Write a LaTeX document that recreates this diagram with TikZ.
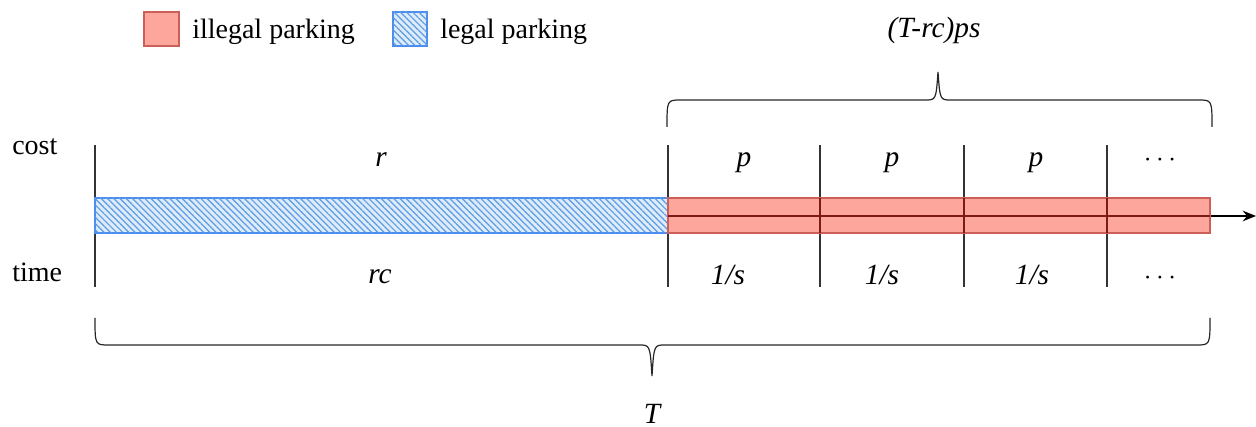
\documentclass[tikz,border=0pt]{standalone}
\usepackage{fontspec}
\setmainfont{Liberation Serif}
\usetikzlibrary{arrows.meta, patterns.meta}

\definecolor{illfill}{HTML}{FCA69C}
\definecolor{illdraw}{HTML}{CC5F5A}
\definecolor{illline}{HTML}{7D1A18}
\definecolor{legfill}{HTML}{DEEBF9}
\definecolor{leghatch}{HTML}{5B9CE4}
\definecolor{legdraw}{HTML}{4C8CF2}

\begin{document}
\begin{tikzpicture}[
  x=0.75pt, y=-0.75pt,
  illegal/.style={draw=illdraw, line width=1pt, fill=illfill},
  legal/.style={draw=legdraw, line width=1pt, fill=legfill,
    postaction={pattern={Lines[angle=-45, distance=3.3pt, line width=0.9pt]}, pattern color=leghatch}},
  tick/.style={draw=black!80, line width=0.8pt},
  inner/.style={draw=illline, line width=0.9pt},
  axis/.style={-{Stealth[length=10pt, width=8pt]}, line width=1pt},
  brace/.style={draw=black!85, line width=0.9pt},
  txt/.style={font=\fontsize{21}{24}\selectfont, inner sep=0pt, anchor=base west},
  lab/.style={font=\fontsize{22}{26}\selectfont\itshape, inner sep=0pt, anchor=base}
]
  \useasboundingbox (0,0) rectangle (1256,427);

  % legend
  \draw[illegal] (144,12) rectangle (179,46);
  \node[txt] (illtxt) at (192,39) {illegal parking};
  \draw[legal] (393,12) rectangle (427,46);
  \node[txt] (legtxt) at (440,39) {legal parking};

  % row captions
  \node[txt] (cost) at (12,155) {cost};
  \node[txt] (time) at (12,282) {time};

  % ticks
  \foreach \x in {95,668,820,964,1107}
    \draw[tick] (\x,145) -- (\x,287);

  % axis and bars
  \coordinate (axisL) at (668,216);
  \coordinate (axisR) at (1256,216);
  \draw[axis] (axisL) -- (axisR);
  \draw[legal] (95,198) rectangle (668,233);
  \draw[illegal] (668,198) rectangle (1210,233);
  \draw[inner] (axisL) -- (1210,216);
  \foreach \x in {820,964,1107}
    \draw[inner] (\x,198) -- (\x,233);

  % cost labels
  \node[lab] (r) at (381,167) {r};
  \node[lab] (p1) at (744,167) {p};
  \node[lab] (p2) at (892,167) {p};
  \node[lab] (p3) at (1036,167) {p};
  \node[lab] (cdots) at (1160,167) {$\cdots$};

  % time labels
  \node[lab] (rc) at (380,284) {rc};
  \node[lab] (s1) at (728,285) {1/s};
  \node[lab] (s2) at (882,285) {1/s};
  \node[lab] (s3) at (1032,285) {1/s};
  \node[lab] (tdots) at (1160,285) {$\cdots$};

  % braces
  \draw[brace] (667,127) .. controls (667,100) .. (681,100) -- (925,100)
    .. controls (936,100) .. (938,72) .. controls (940,100) .. (951,100)
    -- (1198,100) .. controls (1212,100) .. (1212,127);
  \node[lab] (illcost) at (934,38) {(T-rc)ps};

  \draw[brace] (95,318) .. controls (95,345) .. (109,345) -- (639,345)
    .. controls (650,345) .. (652,376) .. controls (654,345) .. (665,345)
    -- (1196,345) .. controls (1210,345) .. (1210,318);
  \node[lab] (total) at (652,423) {T};
\end{tikzpicture}
\end{document}
